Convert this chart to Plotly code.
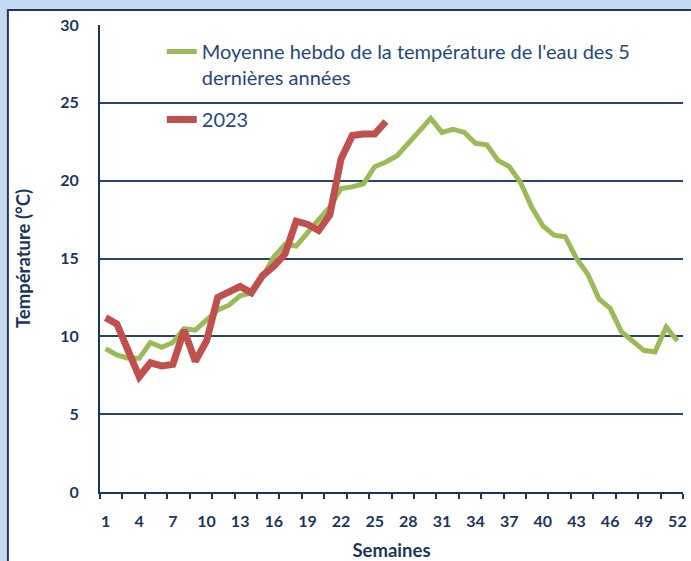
import plotly.graph_objects as go

weeks = list(range(1, 53))
moyenne_5ans = [9.2, 8.8, 8.6, 8.6, 9.6, 9.3, 9.6, 10.5, 10.4, 11.0,
                11.7, 12.0, 12.6, 12.8, 13.8, 15.1, 15.9, 15.8, 16.7, 17.5,
                18.3, 19.5, 19.6, 19.8, 20.9, 21.2, 21.6, 22.4, 23.1, 24.0,
                23.1, 23.3, 23.1, 22.4, 22.3, 21.3, 20.9, 19.9, 18.3, 17.1,
                16.5, 16.4, 15.0, 14.0, 12.4, 11.8, 10.3, 9.7, 9.1, 9.0,
                10.6, 9.7]
weeks_2023 = list(range(1, 27))
temp_2023 = [11.2, 10.8, 9.1, 7.4, 8.3, 8.1, 8.2, 10.4, 8.4, 9.7,
             12.5, 12.8, 13.2, 12.8, 13.9, 14.5, 15.3, 17.4, 17.2, 16.8,
             17.8, 21.4, 22.9, 23.0, 23.0, 23.8]
x_tick_vals = list(range(1, 53, 3))
y_tick_vals = [0, 5, 10, 15, 20, 25, 30]

navy = "#1b365d"
grid = "#2b4566"
font = "Lato, 'Open Sans', sans-serif"

fig = go.Figure()
fig.add_trace(go.Scatter(
    x=weeks, y=moyenne_5ans, mode="lines",
    name="Moyenne hebdo de la température de l'eau des 5<br>dernières années",
    line=dict(color="#9bbb59", width=5), legendgroup="a"))
fig.add_trace(go.Scatter(
    x=weeks_2023, y=temp_2023, mode="lines", name="2023",
    line=dict(color="#c0504d", width=7), legendgroup="b"))

fig.update_layout(
    width=691, height=561,
    margin=dict(l=100, r=8, t=25, b=69),
    paper_bgcolor="#c6d9f1", plot_bgcolor="white",
    font=dict(family=font, color=navy),
    showlegend=True,
    legend=dict(x=0.106, y=0.985, xanchor="left", yanchor="top",
                bgcolor="rgba(0,0,0,0)", font=dict(size=20, color="#1f497d"),
                valign="top", tracegroupgap=13, traceorder="grouped"),
    shapes=[dict(type="rect", xref="paper", yref="paper",
                 x0=-0.158, x1=1.1, y0=-0.3, y1=1.032,
                 line=dict(color="#1f3864", width=2), fillcolor="white",
                 layer="below")],
)
fig.update_xaxes(
    range=[0.5, 52.5], tickvals=x_tick_vals, ticktext=[str(v) for v in x_tick_vals],
    ticks="outside", ticklen=14, tickcolor="rgba(0,0,0,0)",
    minor=dict(tick0=0.5, dtick=2, ticks="outside", ticklen=5, tickcolor=navy, tickwidth=1.5, showgrid=False),
    showline=True, linecolor=navy, linewidth=2, showgrid=False, automargin=False,
    tickfont=dict(size=16, family=font, color=navy, weight="bold"),
    title=dict(text="<b>Semaines</b>", font=dict(size=18.5, family=font, color=navy), standoff=18),
    zeroline=False)
fig.update_yaxes(
    range=[0, 30], tickvals=y_tick_vals,
    ticks="outside", ticklen=16, tickcolor="rgba(0,0,0,0)",
    showline=True, linecolor=navy, linewidth=2, automargin=False,
    showgrid=True, gridcolor=grid, gridwidth=1.5,
    tickfont=dict(size=16, family=font, color=navy, weight="bold"),
    title=dict(text="<b>Température (°C)</b>", font=dict(size=18.5, family=font, color=navy), standoff=25),
    zeroline=False)

fig.write_html("out.html", config={"displayModeBar": False},
               post_script="document.body.style.margin='0';document.body.style.overflow='hidden';")
